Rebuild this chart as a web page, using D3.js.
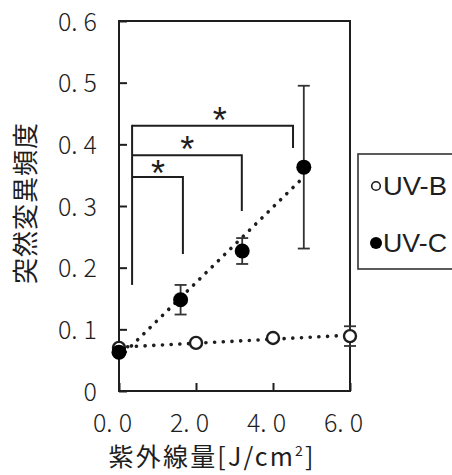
<!DOCTYPE html>
<html><head><meta charset="utf-8">
<script src="https://cdn.jsdelivr.net/npm/d3@7"></script>
<style>
html,body{margin:0;padding:0;background:#fff;}
svg{display:block;}
</style></head>
<body>
<script>
// ---- data ----
const seriesNames = ["UV-B", "UV-C"];
const uvbX = [0, 2.0, 4.0, 6.0];
const uvbY = [0.070, 0.078, 0.086, 0.089];
const uvbErr = [0.003, 0.003, 0.004, 0.016];
const uvcX = [0, 1.6, 3.2, 4.8];
const uvcY = [0.063, 0.148, 0.227, 0.363];
const uvcErr = [0.004, 0.024, 0.021, 0.132];
const xTicks = [0, 2, 4, 6];
const xTickLabels = ["0.0", "2.0", "4.0", "6.0"];
const yTicks = [0, 0.1, 0.2, 0.3, 0.4, 0.5, 0.6];
const yTickLabels = ["0", "0.1", "0.2", "0.3", "0.4", "0.5", "0.6"];
const xTitle = "紫外線量[J/cm";
const xTitleSup = "2";
const xTitleEnd = "]";
const yTitle = "突然変異頻度";
// significance brackets (data units): common left x, left bottom, level, right x, right bottom
const brLeftX = 0.34;
const brLeftBottom = 0.172;
const brLevel = [0.430, 0.3825, 0.347];
const brRightX = [4.52, 3.19, 1.66];
const brRightBottom = [0.394, 0.292, 0.222];
const brStarX = [2.62, 1.77, 1.01];
const brLabel = ["*", "*", "*"];

// ---- layout ----
const W = 452, H = 475;
const L = 119, R = 350, T = 21, B = 391;
const ink = "#1e1e1e";
const svg = d3.select("body").append("svg").attr("width", W).attr("height", H);
const x = d3.scaleLinear().domain([0, 6]).range([L, R]);
const y = d3.scaleLinear().domain([0, 0.6]).range([B, T]);
const numFont = "'Noto Sans CJK JP', 'Noto Sans', sans-serif";

// frame
svg.append("rect").attr("x", L).attr("y", T).attr("width", R - L).attr("height", B - T)
  .attr("fill", "none").attr("stroke", ink).attr("stroke-width", 2);

// y axis ticks (inward)
const yAxis = d3.axisLeft(y).tickValues(yTicks).tickSize(-8).tickPadding(22)
  .tickFormat((d, i) => yTickLabels[i]);
const gy = svg.append("g").attr("transform", `translate(${L},0)`).call(yAxis);
gy.select(".domain").remove();
gy.selectAll(".tick line").attr("stroke", ink).attr("stroke-width", 2);
gy.selectAll(".tick text").each(function (d, i) {
  const t = d3.select(this);
  const s = yTickLabels[i];
  t.text(null).attr("font-family", numFont).attr("font-weight", 300).attr("font-size", 25).attr("fill", ink)
    .attr("dy", "0.36em");
  if (s.indexOf(".") >= 0) {
    const parts = s.split(".");
    t.append("tspan").text(parts[0] + ".");
    t.append("tspan").attr("dx", 6).text(parts[1]);
  } else {
    t.append("tspan").text(s);
  }
});

// x axis ticks (inward)
const xAxis = d3.axisBottom(x).tickValues(xTicks).tickSize(-8).tickPadding(18)
  .tickFormat((d, i) => xTickLabels[i]);
const gx = svg.append("g").attr("transform", `translate(0,${B})`).call(xAxis);
gx.select(".domain").remove();
gx.selectAll(".tick line").attr("stroke", ink).attr("stroke-width", 2);
gx.selectAll(".tick text").each(function (d, i) {
  const t = d3.select(this);
  const s = xTickLabels[i];
  const parts = s.split(".");
  t.text(null).attr("font-family", numFont).attr("font-weight", 300).attr("font-size", 25).attr("fill", ink)
    .attr("x", -7).attr("dy", "0.92em");
  t.append("tspan").text(parts[0] + ".");
  t.append("tspan").attr("dx", 6).text(parts[1]);
});

// axis titles
const xt = svg.append("text").attr("x", 211).attr("y", 466)
  .attr("text-anchor", "middle").attr("font-family", numFont).attr("font-weight", 400)
  .attr("font-size", 25).attr("fill", ink)
  .attr("textLength", 205).attr("lengthAdjust", "spacing");
xt.append("tspan").text(xTitle);
xt.append("tspan").attr("font-size", 14).attr("dy", -10).text(xTitleSup);
xt.append("tspan").attr("dy", 10).text(xTitleEnd);

svg.append("text").attr("transform", "translate(35,203) rotate(-90)")
  .attr("text-anchor", "middle").attr("font-family", numFont).attr("font-weight", 400)
  .attr("font-size", 26).attr("letter-spacing", 1).attr("fill", ink).text(yTitle);

// trend lines (least squares)
function fit(xs, ys) {
  const mx = d3.mean(xs), my = d3.mean(ys);
  let sxy = 0, sxx = 0;
  xs.forEach((v, i) => { sxy += (v - mx) * (ys[i] - my); sxx += (v - mx) * (v - mx); });
  const b = sxy / sxx;
  return { a: my - b * mx, b };
}
function trend(xs, ys) {
  const f = fit(xs, ys);
  const x0 = d3.min(xs), x1 = d3.max(xs);
  svg.append("line")
    .attr("x1", x(x0)).attr("y1", y(f.a + f.b * x0))
    .attr("x2", x(x1)).attr("y2", y(f.a + f.b * x1))
    .attr("stroke", ink).attr("stroke-width", 3.6)
    .attr("stroke-linecap", "round").attr("stroke-dasharray", "0.1,8.6");
}

function errorBars(xs, ys, es) {
  const g = svg.append("g").attr("stroke", "#333").attr("stroke-width", 1.8);
  xs.forEach((v, i) => {
    const cx = x(v), y0 = y(ys[i] - es[i]), y1 = y(ys[i] + es[i]);
    g.append("line").attr("x1", cx).attr("x2", cx).attr("y1", y0).attr("y2", y1);
    g.append("line").attr("x1", cx - 6).attr("x2", cx + 6).attr("y1", y0).attr("y2", y0);
    g.append("line").attr("x1", cx - 6).attr("x2", cx + 6).attr("y1", y1).attr("y2", y1);
  });
}

// brackets
const bg = svg.append("g").attr("fill", "none").attr("stroke", ink).attr("stroke-width", 2);
bg.append("line").attr("x1", x(brLeftX)).attr("x2", x(brLeftX))
  .attr("y1", y(brLeftBottom)).attr("y2", y(d3.max(brLevel)) - 1);
brLevel.forEach((lv, i) => {
  bg.append("path").attr("d",
    `M${x(brLeftX)},${y(lv)} L${x(brRightX[i])},${y(lv)} L${x(brRightX[i])},${y(brRightBottom[i])}`);
  svg.append("text").attr("x", x(brStarX[i])).attr("y", y(lv) + (i === 2 ? 9 : 7))
    .attr("text-anchor", "middle").attr("font-family", "'Liberation Sans', sans-serif")
    .attr("font-size", 36).attr("fill", ink).text(brLabel[i]);
});

// UV-B
trend(uvbX, uvbY);
errorBars(uvbX, uvbY, uvbErr);
svg.append("g").selectAll("circle").data(uvbX).join("circle")
  .attr("cx", d => x(d)).attr("cy", (d, i) => y(uvbY[i])).attr("r", 6)
  .attr("fill", "#fff").attr("stroke", ink).attr("stroke-width", 2.4);

// UV-C
trend(uvcX, uvcY);
errorBars(uvcX, uvcY, uvcErr);
svg.append("g").selectAll("circle").data(uvcX).join("circle")
  .attr("cx", d => x(d)).attr("cy", (d, i) => y(uvcY[i])).attr("r", 7.5)
  .attr("fill", "#000");

// legend
svg.append("rect").attr("x", 358).attr("y", 154).attr("width", 110).attr("height", 115)
  .attr("fill", "#fff").attr("stroke", "#333").attr("stroke-width", 1.6);
const lg = svg.append("g");
const legY = [186, 243];
seriesNames.forEach((n, i) => {
  if (i === 0) {
    lg.append("circle").attr("cx", 376).attr("cy", legY[i]).attr("r", 4.3)
      .attr("fill", "#fff").attr("stroke", ink).attr("stroke-width", 1.6);
  } else {
    lg.append("circle").attr("cx", 376).attr("cy", legY[i]).attr("r", 6).attr("fill", "#000");
  }
  lg.append("text").attr("x", 383).attr("y", legY[i]).attr("dy", "0.36em")
    .attr("font-family", "'Liberation Sans Narrow', 'Liberation Sans', sans-serif")
    .attr("font-size", 26).attr("fill", ink)
    .attr("textLength", 64).attr("lengthAdjust", "spacingAndGlyphs").text(n);
});
</script>
</body></html>
